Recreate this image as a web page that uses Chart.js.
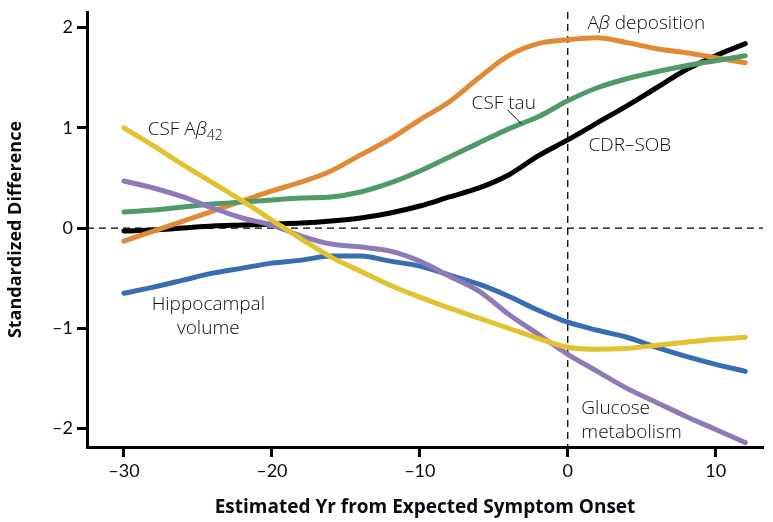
<!DOCTYPE html>
<html>
<head>
<meta charset="utf-8">
<script src="https://cdn.jsdelivr.net/npm/chart.js@4/dist/chart.umd.min.js"></script>
<style>
  html, body { margin: 0; padding: 0; background: #fff; }
  #wrap { width: 773px; height: 522px; }
</style>
</head>
<body>
<div id="wrap"><canvas id="chart" width="773" height="522"></canvas></div>
<script>
// Years from expected symptom onset (x values shared by every curve)
const years = [-30, -28, -26, -24, -22, -20, -18, -16, -14, -12, -10, -8, -6, -4, -2, 0, 2, 4, 6, 8, 10, 12];

// Standardized differences
const csfAbeta42   = [1.00, 0.82, 0.63, 0.45, 0.27, 0.08, -0.11, -0.29, -0.43, -0.57, -0.69, -0.80, -0.90, -1.00, -1.10, -1.19, -1.21, -1.20, -1.17, -1.14, -1.11, -1.09];
const glucoseMetab = [0.47, 0.40, 0.31, 0.20, 0.10, 0.03, -0.08, -0.16, -0.19, -0.23, -0.33, -0.48, -0.63, -0.86, -1.06, -1.26, -1.43, -1.60, -1.74, -1.88, -2.01, -2.14];
const csfTau       = [0.16, 0.18, 0.21, 0.24, 0.26, 0.28, 0.30, 0.31, 0.36, 0.45, 0.57, 0.71, 0.85, 0.99, 1.11, 1.27, 1.40, 1.49, 1.56, 1.62, 1.67, 1.72];
const abetaDeposit = [-0.13, -0.03, 0.07, 0.17, 0.27, 0.37, 0.46, 0.57, 0.73, 0.89, 1.08, 1.26, 1.50, 1.72, 1.84, 1.88, 1.90, 1.85, 1.79, 1.75, 1.70, 1.65];
const cdrSob       = [-0.03, -0.02, 0.00, 0.02, 0.03, 0.04, 0.05, 0.07, 0.10, 0.15, 0.22, 0.31, 0.40, 0.53, 0.72, 0.88, 1.05, 1.22, 1.40, 1.58, 1.72, 1.84];
const hippocampal  = [-0.65, -0.59, -0.52, -0.45, -0.40, -0.35, -0.32, -0.28, -0.28, -0.33, -0.38, -0.47, -0.56, -0.68, -0.82, -0.94, -1.02, -1.09, -1.19, -1.28, -1.36, -1.43];

// Axis ticks
const xTicks = [-30, -20, -10, 0, 10];
const yTicks = [-2, -1, 0, 1, 2];

const FONT = "Lato, 'Open Sans', sans-serif";
const LABEL_FONT = "'Open Sans', Lato, sans-serif";
const TEXT = "#0a0a14";

// build {x,y} points from the arrays
function pts(vals) {
    return vals.map((v, i) => ({ x: years[i], y: v }));
}

function serie(vals, color) {
    return {
        data: pts(vals),
        borderColor: color,
        borderWidth: 5,
        pointRadius: 0,
        fill: false,
        cubicInterpolationMode: 'monotone',
        borderCapStyle: 'round',
        borderJoinStyle: 'round'
    };
}

// labels placed in data units; parts = [text, style]
const labels = [
    { x: -28.4, y: 0.93, align: 'left', parts: [["CSF A", "n"], ["β", "i"], ["42", "sub"]] },
    { x: -24.3, y: -0.82, align: 'center', parts: [["Hippocampal", "n"]] },
    { x: -24.3, y: -1.06, align: 'center', parts: [["volume", "n"]] },
    { x: 0.92, y: -1.86, align: 'left', parts: [["Glucose", "n"]] },
    { x: 0.92, y: -2.10, align: 'left', parts: [["metabolism", "n"]] },
    { x: 1.33, y: 1.99, align: 'left', parts: [["A", "n"], ["β", "i"], [" deposition", "n"]] },
    { x: -6.5, y: 1.19, align: 'left', parts: [["CSF tau", "n"]] },
    { x: 1.40, y: 0.765, align: 'left', parts: [["CDR–SOB", "n"]] }
];

function partFont(style) {
    if (style === "i") return "italic 300 19px " + LABEL_FONT;
    if (style === "sub") return "300 14px " + LABEL_FONT;
    return "300 19px " + LABEL_FONT;
}

// dashed zero lines behind the curves
const zeroLines = {
    id: 'zeroLines',
    beforeDatasetsDraw(chart) {
        const { ctx, chartArea, scales } = chart;
        const y0 = scales.y.getPixelForValue(0);
        const x0 = scales.x.getPixelForValue(0);
        ctx.save();
        ctx.strokeStyle = '#000';
        ctx.lineWidth = 1.3;
        ctx.setLineDash([7, 5]);
        ctx.beginPath();
        ctx.moveTo(chartArea.left, y0);
        ctx.lineTo(chartArea.right, y0);
        ctx.moveTo(x0, chartArea.top);
        ctx.lineTo(x0, chartArea.bottom);
        ctx.stroke();
        ctx.restore();
    }
};

// curve labels + the little leader line for CSF tau
const curveLabels = {
    id: 'curveLabels',
    afterDatasetsDraw(chart) {
        const { ctx, scales } = chart;
        ctx.save();
        ctx.fillStyle = TEXT;
        ctx.textBaseline = 'alphabetic';
        labels.forEach(l => {
            let w = 0;
            l.parts.forEach(p => { ctx.font = partFont(p[1]); w += ctx.measureText(p[0]).width; });
            let px = scales.x.getPixelForValue(l.x);
            const py = scales.y.getPixelForValue(l.y);
            if (l.align === 'center') px -= w / 2;
            ctx.textAlign = 'left';
            l.parts.forEach(p => {
                ctx.font = partFont(p[1]);
                ctx.fillText(p[0], px, p[1] === "sub" ? py + 5 : py);
                px += ctx.measureText(p[0]).width;
            });
        });
        ctx.strokeStyle = '#000';
        ctx.lineWidth = 1;
        ctx.beginPath();
        ctx.moveTo(scales.x.getPixelForValue(-4.07), scales.y.getPixelForValue(1.18));
        ctx.lineTo(scales.x.getPixelForValue(-3.13), scales.y.getPixelForValue(1.04));
        ctx.stroke();
        ctx.restore();
    }
};

const minusDash = v => (v < 0 ? '–' + Math.abs(v) : String(v));

const axisGrid = {
    display: true,
    drawOnChartArea: false,
    drawTicks: true,
    tickLength: 10,
    tickWidth: 3,
    tickColor: '#000'
};

new Chart(document.getElementById('chart'), {
    type: 'line',
    data: {
        datasets: [
            serie(csfAbeta42, '#e3c12f'),
            serie(glucoseMetab, '#8f7ab8'),
            serie(hippocampal, '#386db2'),
            serie(csfTau, '#4f9a68'),
            serie(abetaDeposit, '#e08a35'),
            serie(cdrSob, '#000000')
        ]
    },
    options: {
        responsive: false,
        animation: false,
        layout: { padding: { top: 9, right: 10, left: 0, bottom: 0 } },
        plugins: { legend: { display: false }, tooltip: { enabled: false } },
        scales: {
            x: {
                type: 'linear',
                min: -32.5,
                max: 13.2,
                afterBuildTicks: s => { s.ticks = xTicks.map(v => ({ value: v })); },
                afterFit: s => { s.height = 75; },
                ticks: { callback: minusDash, color: TEXT, font: { family: FONT, size: 18 }, padding: 3, maxRotation: 0 },
                grid: axisGrid,
                border: { display: true, width: 3, color: '#000' },
                title: {
                    display: true,
                    text: 'Estimated Yr from Expected Symptom Onset',
                    color: TEXT,
                    font: { family: LABEL_FONT, size: 19, weight: 'bold' },
                    padding: { top: 0, bottom: 3 }
                }
            },
            y: {
                type: 'linear',
                min: -2.185,
                max: 2.155,
                afterBuildTicks: s => { s.ticks = yTicks.map(v => ({ value: v })); },
                afterFit: s => { s.width = 87; },
                ticks: { callback: minusDash, color: TEXT, font: { family: FONT, size: 18, lineHeight: 0.9 }, padding: 4 },
                grid: axisGrid,
                border: { display: true, width: 3, color: '#000' },
                title: {
                    display: true,
                    text: 'Standardized Difference',
                    color: TEXT,
                    font: { family: LABEL_FONT, size: 18, weight: 'bold' },
                    padding: { top: 5, bottom: 0 }
                }
            }
        }
    },
    plugins: [zeroLines, curveLabels]
});
</script>
</body>
</html>
